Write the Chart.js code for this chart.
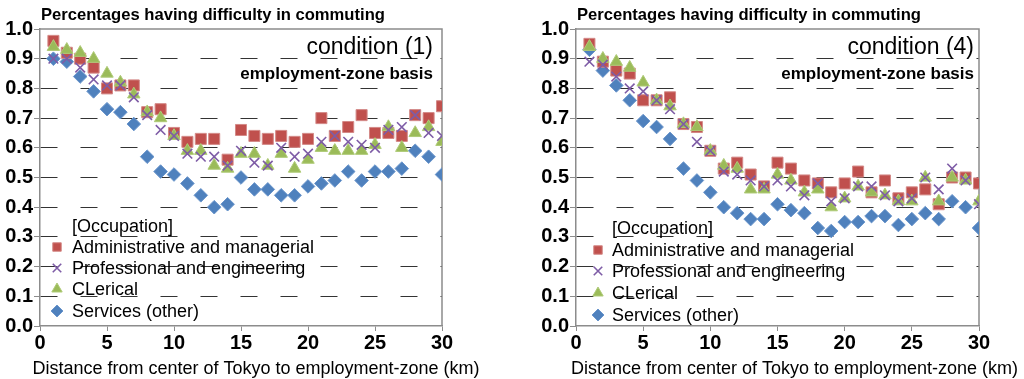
<!DOCTYPE html>
<html><head><meta charset="utf-8">
<script src="https://cdn.jsdelivr.net/npm/chart.js@4.4.0/dist/chart.umd.min.js"></script>
<style>
html,body{margin:0;padding:0;background:#fff;}
#wrap{position:relative;width:1024px;height:379px;overflow:hidden;background:#fff;}
canvas{position:absolute;top:0;}
</style></head><body>
<div id="wrap">
<canvas id="c1" width="512" height="379" style="left:0px"></canvas>
<canvas id="c4" width="512" height="379" style="left:512px"></canvas>
</div>
<script>
// ---- data ----
const distances = [1,2,3,4,5,6,7,8,9,10,11,12,13,14,15,16,17,18,19,20,21,22,23,24,25,26,27,28,29,30];
const seriesNames = ['Administrative and managerial','Professional and engineering','CLerical','Services (other)'];
const yTicks = [0,0.1,0.2,0.3,0.4,0.5,0.6,0.7,0.8,0.9,1.0];
const xTicks = [0,5,10,15,20,25,30];
const xTitle = 'Distance from center of Tokyo to employment-zone (km)';

// condition (1)
const admin1    = [0.96,0.92,0.90,0.87,0.80,0.81,0.81,0.72,0.73,0.65,0.62,0.63,0.63,0.56,0.66,0.64,0.63,0.64,0.62,0.63,0.70,0.64,0.67,0.71,0.65,0.65,0.64,0.71,0.70,0.74];
const prof1     = [0.90,0.90,0.87,0.83,0.81,0.81,0.77,0.71,0.66,0.64,0.58,0.57,0.57,0.54,0.59,0.55,0.54,0.60,0.57,0.58,0.62,0.64,0.62,0.61,0.60,0.66,0.67,0.71,0.65,0.64];
const clerical1 = [0.94,0.93,0.92,0.90,0.85,0.82,0.78,0.72,0.70,0.64,0.59,0.59,0.54,0.53,0.58,0.58,0.54,0.58,0.53,0.56,0.60,0.59,0.59,0.59,0.61,0.67,0.60,0.65,0.67,0.62];
const services1 = [0.90,0.89,0.84,0.79,0.73,0.72,0.68,0.57,0.52,0.51,0.48,0.44,0.40,0.41,0.50,0.46,0.46,0.44,0.44,0.47,0.48,0.49,0.52,0.49,0.52,0.52,0.53,0.59,0.57,0.51];

// condition (4)
const admin4    = [0.95,0.89,0.86,0.85,0.76,0.76,0.77,0.68,0.67,0.59,0.53,0.55,0.51,0.47,0.55,0.53,0.49,0.48,0.45,0.48,0.52,0.45,0.49,0.43,0.45,0.46,0.41,0.50,0.50,0.48];
const prof4     = [0.89,0.88,0.84,0.80,0.79,0.76,0.73,0.68,0.62,0.59,0.52,0.51,0.49,0.47,0.49,0.47,0.44,0.48,0.42,0.43,0.47,0.47,0.44,0.42,0.43,0.50,0.46,0.53,0.49,0.41];
const clerical4 = [0.94,0.90,0.89,0.87,0.82,0.76,0.74,0.68,0.67,0.59,0.54,0.53,0.46,0.46,0.51,0.49,0.45,0.46,0.40,0.43,0.47,0.45,0.44,0.42,0.42,0.50,0.42,0.50,0.49,0.42];
const services4 = [0.93,0.86,0.81,0.76,0.69,0.67,0.63,0.53,0.49,0.45,0.40,0.38,0.36,0.36,0.41,0.39,0.38,0.33,0.32,0.35,0.35,0.37,0.37,0.34,0.36,0.38,0.36,0.42,0.40,0.33];

// ---- styles ----
const FONT = "'Liberation Sans', Arial, sans-serif";
const styles = [
  {pointStyle:'rect',     radius:7.8, bg:'#C0504D', border:'#D48A88', bw:1,   order:2},
  {pointStyle:'crossRot', radius:6.8, bg:'#7E5CA6', border:'#7E5CA6', bw:1.6, order:0},
  {pointStyle:'triangle', radius:7.2, bg:'#9BBB59', border:'#AFCB78', bw:1,   order:1},
  {pointStyle:'rectRot',  radius:6.8, bg:'#4F81BD', border:'#6A95CB', bw:1,   order:3}
];

function makeData(arrs){
  return {
    datasets: arrs.map((arr,i)=>({
      label: seriesNames[i],
      data: distances.map((d,j)=>({x:d, y:arr[j]})),
      pointStyle: styles[i].pointStyle,
      pointRadius: styles[i].radius,
      pointBackgroundColor: styles[i].bg,
      pointBorderColor: styles[i].border,
      pointBorderWidth: styles[i].bw,
      showLine:false,
      order: styles[i].order
    }))
  };
}

function drawMarker(ctx, style, x, y, r){
  ctx.save();
  ctx.fillStyle = style.bg; ctx.strokeStyle = style.border; ctx.lineWidth = style.bw;
  ctx.beginPath();
  if (style.pointStyle==='rect'){
    const s = r*Math.SQRT1_2;
    ctx.rect(x-s,y-s,2*s,2*s); ctx.fill(); ctx.stroke();
  } else if (style.pointStyle==='crossRot'){
    const s = r*Math.SQRT1_2;
    ctx.moveTo(x-s,y-s); ctx.lineTo(x+s,y+s); ctx.moveTo(x+s,y-s); ctx.lineTo(x-s,y+s); ctx.stroke();
  } else if (style.pointStyle==='triangle'){
    let a = 0;
    for (let k=0;k<3;k++){ const px=x+Math.sin(a)*r, py=y-Math.cos(a)*r; if(k===0)ctx.moveTo(px,py); else ctx.lineTo(px,py); a+=2*Math.PI/3; }
    ctx.closePath(); ctx.fill(); ctx.stroke();
  } else {
    ctx.moveTo(x,y-r); ctx.lineTo(x+r,y); ctx.lineTo(x,y+r); ctx.lineTo(x-r,y); ctx.closePath(); ctx.fill(); ctx.stroke();
  }
  ctx.restore();
}

const decor = {
  id:'decor',
  beforeDatasetsDraw(chart){
    const a = chart.chartArea, ctx = chart.ctx;
    ctx.save();
    ctx.strokeStyle = '#8c8c8c'; ctx.lineWidth = 1.5;
    ctx.beginPath();
    ctx.moveTo(a.left, a.top); ctx.lineTo(a.right, a.top); ctx.lineTo(a.right, a.bottom);
    ctx.stroke();
    ctx.restore();
  },
  afterDraw(chart){
    const o = chart.options.plugins.decor;
    const a = chart.chartArea, ctx = chart.ctx;
    ctx.save();
    ctx.fillStyle = '#000';
    ctx.textBaseline = 'alphabetic';
    // title
    ctx.textAlign = 'left';
    ctx.font = 'bold 16.6px ' + FONT;
    ctx.fillText(o.title, a.left + 1, 20);
    // annotations
    ctx.textAlign = 'right';
    ctx.font = '23px ' + FONT;
    ctx.fillText(o.condition, a.right - o.annRight, 54);
    ctx.font = 'bold 17px ' + FONT;
    ctx.fillText(o.basis, a.right - o.annRight, 79);
    // x axis title
    ctx.textAlign = 'center';
    ctx.font = '18px ' + FONT;
    ctx.fillText(xTitle, (a.left + a.right) / 2 + o.xTitleShift, 374);
    // legend
    ctx.textAlign = 'left';
    ctx.font = '18px ' + FONT;
    ctx.fillText(o.legendTitle, a.left + o.legText, o.legBase[0]);
    for (let i=0;i<4;i++){
      ctx.fillText(seriesNames[i], a.left + o.legText, o.legBase[i+1]);
      drawMarker(ctx, styles[i], a.left + o.legMarker, o.legBase[i+1] - 6, 6);
    }
    ctx.restore();
  }
};

function makeChart(id, arrs, cfg){
  return new Chart(document.getElementById(id), {
    type:'scatter',
    data: makeData(arrs),
    plugins:[decor],
    options:{
      responsive:false, animation:false, devicePixelRatio:1,
      layout:{padding:{top:29, right:cfg.padRight, left:0, bottom:0}},
      plugins:{
        legend:{display:false}, tooltip:{enabled:false}, title:{display:false},
        decor: cfg.decor
      },
      scales:{
        x:{
          type:'linear', min:0, max:30,
          afterBuildTicks(scale){ scale.ticks = xTicks.map(v=>({value:v})); },
          afterFit(scale){ scale.height = 53; },
          grid:{drawOnChartArea:false, drawTicks:true, tickLength:5, color:'#8c8c8c', tickColor:'#8c8c8c'},
          border:{display:true, color:'#8c8c8c', width:1.5},
          ticks:{padding:0, color:'#000', font:{family:FONT, size:20, weight:'bold'}, maxRotation:0, autoSkip:false},
          title:{display:false}
        },
        y:{
          type:'linear', min:0, max:1,
          afterBuildTicks(scale){ scale.ticks = yTicks.map(v=>({value:v})); },
          afterFit(scale){ scale.width = cfg.yWidth; },
          grid:{
            color:(c)=> (c.tick && (c.tick.value===0 || c.tick.value===1)) ? 'rgba(0,0,0,0)' : '#333333',
            lineWidth:1, drawTicks:true, tickLength:6, tickColor:'#8c8c8c', tickBorderDash:[]
          },
          border:{display:true, color:'#8c8c8c', width:1.5, dash:[17,23], dashOffset:0},
          ticks:{padding:1, color:'#000', font:{family:FONT, size:20, weight:'bold'},
                 callback:(v)=>Number(v).toFixed(1)}
        }
      }
    }
  });
}

makeChart('c1', [admin1, prof1, clerical1, services1], {
  padRight:70, yWidth:40,
  decor:{title:'Percentages having difficulty in commuting', condition:'condition (1)', basis:'employment-zone basis',
         legendTitle:'[Occupation]', annRight:9, legMarker:17, legText:32, legBase:[232,253,274,295,317], xTitleShift:15}
});
makeChart('c4', [admin4, prof4, clerical4, services4], {
  padRight:45, yWidth:64,
  decor:{title:'Percentages having difficulty in commuting', condition:'condition (4)', basis:'employment-zone basis',
         legendTitle:'[Occupation]', annRight:5, legMarker:22, legText:36, legBase:[234,256,277,299,321], xTitleShift:17}
});
</script>
</body></html>
